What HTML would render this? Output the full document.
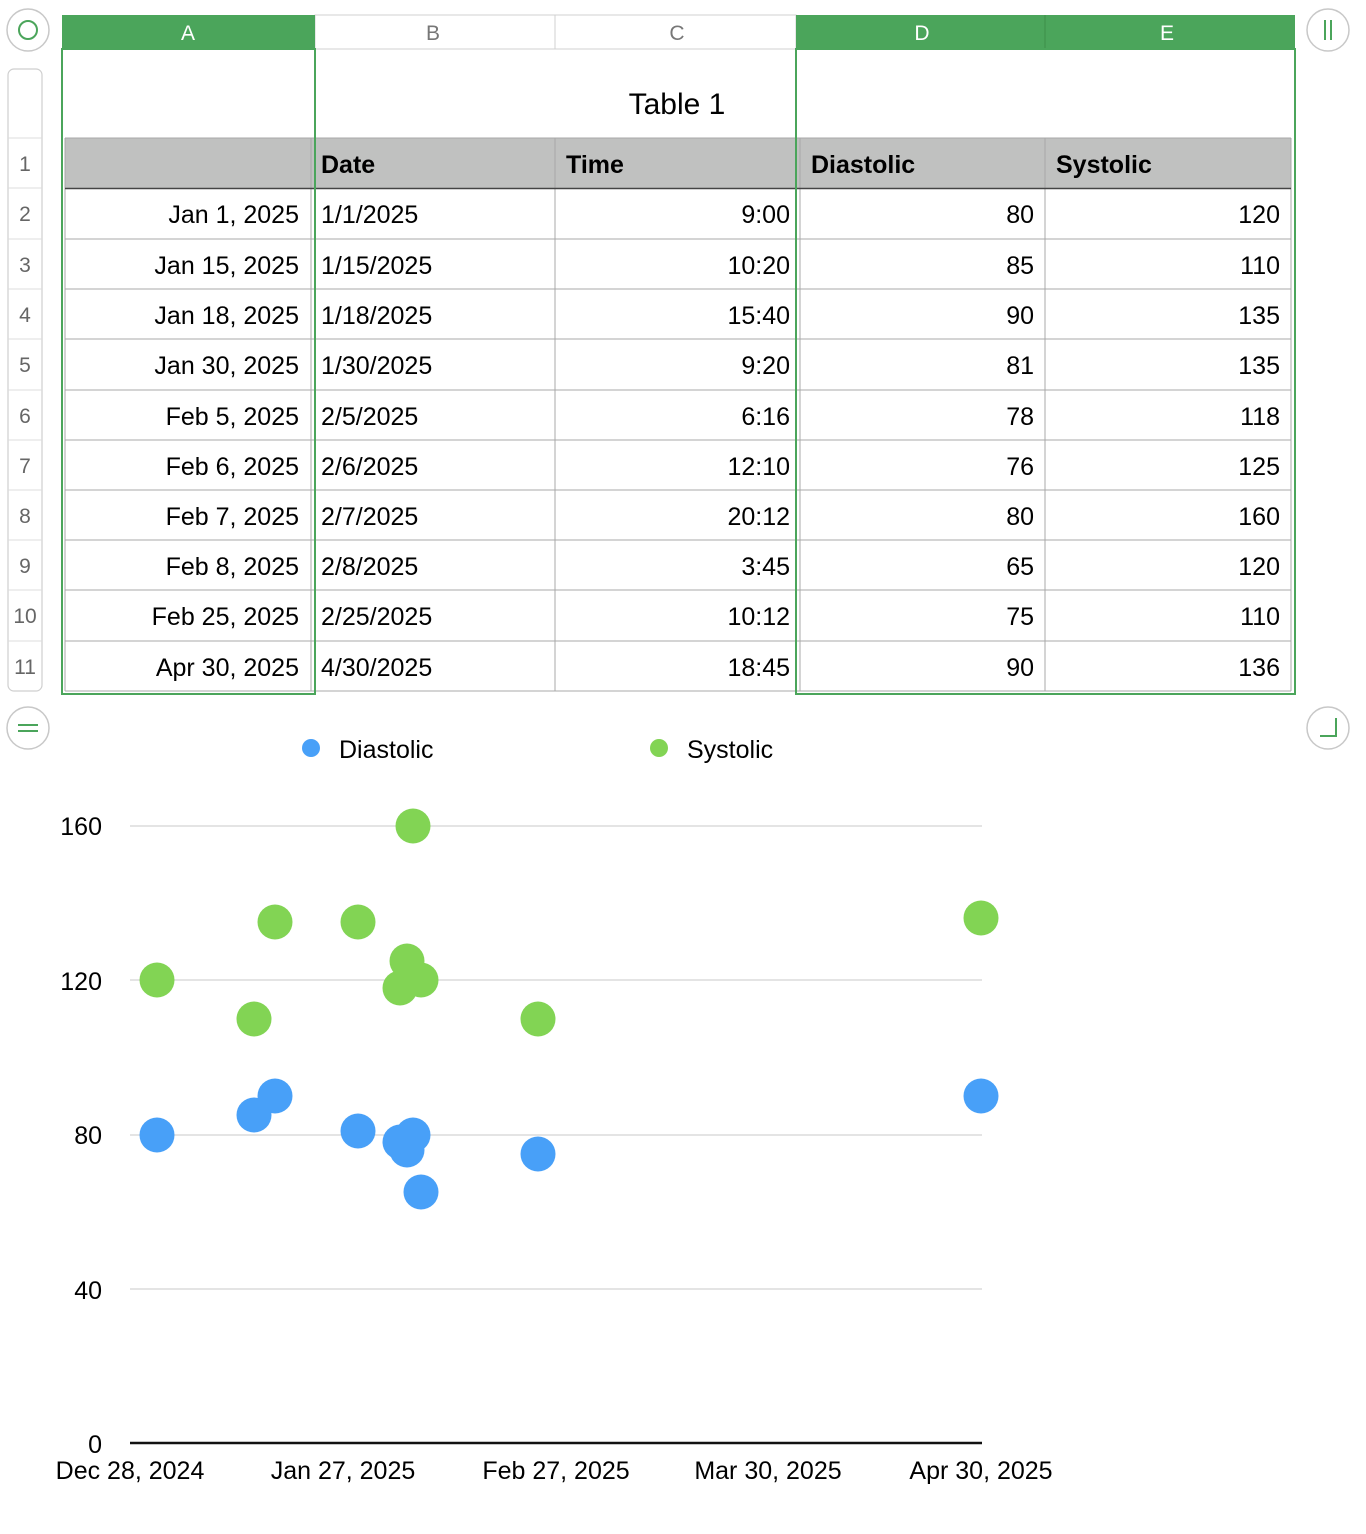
<!DOCTYPE html>
<html><head><meta charset="utf-8"><style>
html,body{margin:0;padding:0;background:#fff;}
svg{display:block;font-family:"Liberation Sans",Arial,sans-serif;}
</style></head><body>
<svg width="1366" height="1534" viewBox="0 0 1366 1534" xmlns="http://www.w3.org/2000/svg">
<g fill="#fff" stroke="#c8c8c8" stroke-width="1.5">
<circle cx="28" cy="30" r="21"/><circle cx="1328" cy="30" r="21"/>
<circle cx="28" cy="728" r="21"/><circle cx="1328" cy="728" r="21"/>
</g>
<circle cx="28" cy="30" r="9" fill="none" stroke="#4ba55b" stroke-width="2"/>
<g stroke="#4ba55b" stroke-width="2">
<line x1="1325" y1="20" x2="1325" y2="40"/><line x1="1331" y1="20" x2="1331" y2="40"/>
<line x1="18" y1="725" x2="38" y2="725"/><line x1="18" y1="731" x2="38" y2="731"/>
<polyline points="1336,718 1336,736 1320,736" fill="none"/>
</g>
<rect x="8" y="69" width="34" height="622" rx="6" fill="#fff" stroke="#cfcfcf" stroke-width="1.2"/>
<g stroke="#dcdcdc" stroke-width="1">
<line x1="8" y1="138" x2="42" y2="138"/><line x1="8" y1="188" x2="42" y2="188"/>
<line x1="8" y1="239" x2="42" y2="239"/><line x1="8" y1="289" x2="42" y2="289"/>
<line x1="8" y1="339" x2="42" y2="339"/><line x1="8" y1="390" x2="42" y2="390"/>
<line x1="8" y1="440" x2="42" y2="440"/><line x1="8" y1="490" x2="42" y2="490"/>
<line x1="8" y1="540" x2="42" y2="540"/><line x1="8" y1="590" x2="42" y2="590"/>
<line x1="8" y1="641" x2="42" y2="641"/>
</g>
<g fill="#666" font-size="21" text-anchor="middle">
<text x="25" y="171">1</text><text x="25" y="221">2</text><text x="25" y="272">3</text>
<text x="25" y="322">4</text><text x="25" y="372">5</text><text x="25" y="423">6</text>
<text x="25" y="473">7</text><text x="25" y="523">8</text><text x="25" y="573">9</text>
<text x="25" y="623">10</text><text x="25" y="674">11</text>
</g>
<rect x="315" y="15" width="481" height="34" fill="#fff" stroke="#d0d0d0"/>
<line x1="555" y1="15" x2="555" y2="49" stroke="#d0d0d0"/>
<rect x="62" y="15" width="253" height="34" fill="#4ba55b"/>
<rect x="796" y="15" width="499" height="34" fill="#4ba55b"/>
<line x1="1045" y1="15" x2="1045" y2="49" stroke="#3c8f4a"/>
<g font-size="21" text-anchor="middle">
<text x="188" y="40" fill="#fff">A</text>
<text x="433" y="40" fill="#777">B</text>
<text x="677" y="40" fill="#777">C</text>
<text x="922" y="40" fill="#fff">D</text>
<text x="1167" y="40" fill="#fff">E</text>
</g>
<text x="677" y="114" font-size="30" text-anchor="middle" fill="#000">Table 1</text>
<rect x="65" y="138" width="1226" height="50" fill="#c0c1c0"/>
<g stroke="#a8a8a8" stroke-width="1">
<line x1="65" y1="138" x2="1291" y2="138"/>
<line x1="65" y1="239" x2="1291" y2="239"/><line x1="65" y1="289" x2="1291" y2="289"/>
<line x1="65" y1="339" x2="1291" y2="339"/><line x1="65" y1="390" x2="1291" y2="390"/>
<line x1="65" y1="440" x2="1291" y2="440"/><line x1="65" y1="490" x2="1291" y2="490"/>
<line x1="65" y1="540" x2="1291" y2="540"/><line x1="65" y1="590" x2="1291" y2="590"/>
<line x1="65" y1="641" x2="1291" y2="641"/><line x1="65" y1="691" x2="1291" y2="691"/>
<line x1="65" y1="138" x2="65" y2="691"/><line x1="311" y1="138" x2="311" y2="691"/>
<line x1="555" y1="138" x2="555" y2="691"/><line x1="800" y1="138" x2="800" y2="691"/>
<line x1="1045" y1="138" x2="1045" y2="691"/><line x1="1291" y1="138" x2="1291" y2="691"/>
</g>
<line x1="65" y1="188.5" x2="1291" y2="188.5" stroke="#444" stroke-width="1.5"/>
<g font-size="25" font-weight="bold" fill="#000">
<text x="321" y="173">Date</text><text x="566" y="173">Time</text>
<text x="811" y="173">Diastolic</text><text x="1056" y="173">Systolic</text>
</g>
<g font-size="25" fill="#000">
<g text-anchor="end">
<text x="299" y="223">Jan 1, 2025</text><text x="299" y="274">Jan 15, 2025</text>
<text x="299" y="324">Jan 18, 2025</text><text x="299" y="374">Jan 30, 2025</text>
<text x="299" y="425">Feb 5, 2025</text><text x="299" y="475">Feb 6, 2025</text>
<text x="299" y="525">Feb 7, 2025</text><text x="299" y="575">Feb 8, 2025</text>
<text x="299" y="625">Feb 25, 2025</text><text x="299" y="676">Apr 30, 2025</text>
<text x="790" y="223">9:00</text><text x="790" y="274">10:20</text>
<text x="790" y="324">15:40</text><text x="790" y="374">9:20</text>
<text x="790" y="425">6:16</text><text x="790" y="475">12:10</text>
<text x="790" y="525">20:12</text><text x="790" y="575">3:45</text>
<text x="790" y="625">10:12</text><text x="790" y="676">18:45</text>
<text x="1034" y="223">80</text><text x="1034" y="274">85</text>
<text x="1034" y="324">90</text><text x="1034" y="374">81</text>
<text x="1034" y="425">78</text><text x="1034" y="475">76</text>
<text x="1034" y="525">80</text><text x="1034" y="575">65</text>
<text x="1034" y="625">75</text><text x="1034" y="676">90</text>
<text x="1280" y="223">120</text><text x="1280" y="274">110</text>
<text x="1280" y="324">135</text><text x="1280" y="374">135</text>
<text x="1280" y="425">118</text><text x="1280" y="475">125</text>
<text x="1280" y="525">160</text><text x="1280" y="575">120</text>
<text x="1280" y="625">110</text><text x="1280" y="676">136</text>
</g>
<text x="321" y="223">1/1/2025</text><text x="321" y="274">1/15/2025</text>
<text x="321" y="324">1/18/2025</text><text x="321" y="374">1/30/2025</text>
<text x="321" y="425">2/5/2025</text><text x="321" y="475">2/6/2025</text>
<text x="321" y="525">2/7/2025</text><text x="321" y="575">2/8/2025</text>
<text x="321" y="625">2/25/2025</text><text x="321" y="676">4/30/2025</text>
</g>
<rect x="62" y="49" width="253" height="645" fill="none" stroke="#4ba55b" stroke-width="2"/>
<rect x="796" y="49" width="499" height="645" fill="none" stroke="#4ba55b" stroke-width="2"/>
<circle cx="311" cy="748" r="9" fill="#48a0f8"/>
<text x="339" y="758" font-size="25" fill="#000">Diastolic</text>
<circle cx="659" cy="748" r="9" fill="#82d454"/>
<text x="687" y="758" font-size="25" fill="#000">Systolic</text>
<g stroke="#c8c8c8" stroke-width="1">
<line x1="130" y1="826" x2="982" y2="826"/><line x1="130" y1="980" x2="982" y2="980"/>
<line x1="130" y1="1135" x2="982" y2="1135"/><line x1="130" y1="1289" x2="982" y2="1289"/>
</g>
<line x1="130" y1="1443" x2="982" y2="1443" stroke="#111" stroke-width="2.5"/>
<g font-size="25" fill="#000" text-anchor="end">
<text x="102" y="835">160</text><text x="102" y="990">120</text>
<text x="102" y="1144">80</text><text x="102" y="1299">40</text>
<text x="102" y="1453">0</text>
</g>
<g font-size="25" fill="#000" text-anchor="middle">
<text x="130" y="1479">Dec 28, 2024</text><text x="343" y="1479">Jan 27, 2025</text>
<text x="556" y="1479">Feb 27, 2025</text><text x="768" y="1479">Mar 30, 2025</text>
<text x="981" y="1479">Apr 30, 2025</text>
</g>
<g fill="#48a0f8">
<circle cx="157" cy="1135" r="17.5"/><circle cx="254" cy="1115" r="17.5"/>
<circle cx="275" cy="1096" r="17.5"/><circle cx="358" cy="1131" r="17.5"/>
<circle cx="400" cy="1142" r="17.5"/><circle cx="407" cy="1150" r="17.5"/>
<circle cx="413" cy="1135" r="17.5"/><circle cx="421" cy="1192" r="17.5"/>
<circle cx="538" cy="1154" r="17.5"/><circle cx="981" cy="1096" r="17.5"/>
</g>
<g fill="#82d454">
<circle cx="157" cy="980" r="17.5"/><circle cx="254" cy="1019" r="17.5"/>
<circle cx="275" cy="922" r="17.5"/><circle cx="358" cy="922" r="17.5"/>
<circle cx="400" cy="988" r="17.5"/><circle cx="407" cy="961" r="17.5"/>
<circle cx="413" cy="826" r="17.5"/><circle cx="421" cy="980" r="17.5"/>
<circle cx="538" cy="1019" r="17.5"/><circle cx="981" cy="918" r="17.5"/>
</g>
</svg>
</body></html>
